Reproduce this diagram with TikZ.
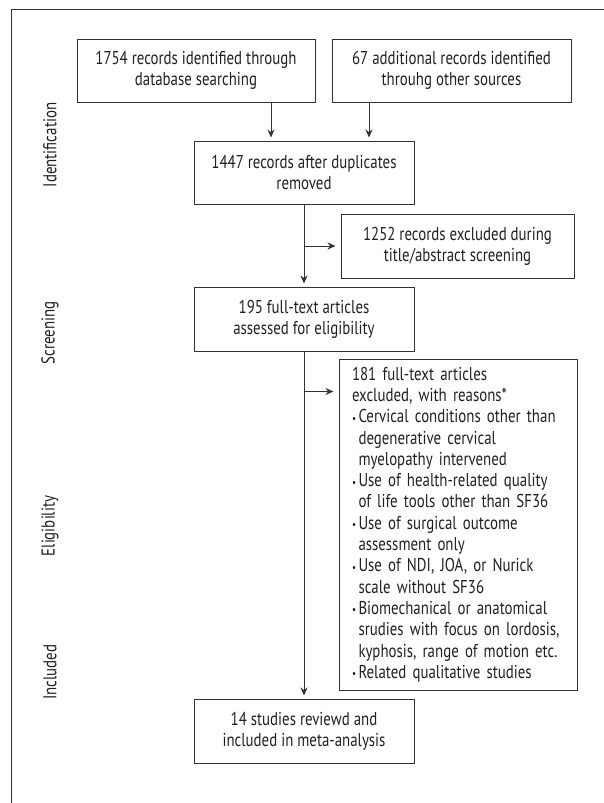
\documentclass[tikz,border=0pt]{standalone}
\usepackage{fontspec}
\setmainfont{PT Sans}[FakeStretch=0.8]
\usetikzlibrary{arrows.meta,positioning}
\definecolor{framegray}{HTML}{333333}
\definecolor{inkgray}{HTML}{231F20}
\newcommand{\bul}{\makebox[6.5pt][l]{\raisebox{0.5pt}{\scalebox{0.6}{\textbullet}}}}
\newcommand{\ind}{\hspace*{6.5pt}}

\begin{document}
\begin{tikzpicture}[
  x=1pt, y=-1pt,
  every node/.style={font=\fontsize{18.6}{21.3}\selectfont, text=inkgray},
  box/.style={draw=framegray, line width=1pt, align=center, inner sep=0pt, minimum height=63pt},
  stage/.style={rotate=90},
  flow/.style={->, draw=framegray, line width=1pt, shorten >=3pt},
  >={Stealth[length=8pt,width=7pt]}
]
  \useasboundingbox (0,0) rectangle (604,803);

  % outer frame (top and left only)
  \draw[framegray, line width=1pt] (604,9) -- (11,9) -- (11,803);

  % stage labels
  \node[stage] (lid)  at (50,145) {Identification};
  \node[stage] (lscr) at (50,333) {Screening};
  \node[stage] (lelg) at (50,526) {Eligibility};
  \node[stage] (linc) at (50,672) {Included};

  % boxes
  \node[box, minimum width=238pt] (src1)  at (196,70.5)  {1754 records identified through\\database searching};
  \node[box, minimum width=239pt] (src2)  at (451.5,70.5) {67 additional records identified\\throuhg other sources};
  \node[box, minimum width=220pt] (dedup) at (304,172.5) {1447 records after duplicates\\removed};
  \node[box, minimum width=233pt, minimum height=64pt] (excl1) at (457.5,246) {1252 records excluded during\\title/abstract screening};
  \node[box, minimum width=220pt, minimum height=64pt] (full)  at (304,319) {195 full-text articles\\assessed for eligibility};
  \node[box, align=left, text width=212pt, inner xsep=13pt, minimum height=331pt] (excl2) at (458,524.5) {%
    181 full-text articles\\
    excluded, with reasons*\\
    \bul Cervical conditions other than\\
    \ind degenerative cervical\\
    \ind myelopathy intervened\\
    \bul Use of health-related quality\\
    \ind of life tools other than SF36\\
    \bul Use of surgical outcome\\
    \ind assessment only\\
    \bul Use of NDI, JOA, or Nurick\\
    \ind scale without SF36\\
    \bul Biomechanical or anatomical\\
    \ind srudies with focus on lordosis,\\
    \ind kyphosis, range of motion etc.\\
    \bul Related qualitative studies};
  \node[box, minimum width=220pt, minimum height=64pt] (incl) at (304,731) {14 studies reviewd and\\included in meta-analysis};

  % connectors
  \path (dedup.north) ++(-33,0) coordinate (in1);
  \path (dedup.north) ++(65,0) coordinate (in2);
  \draw[flow] (in1 |- src1.south) -- (in1);
  \draw[flow] (in2 |- src2.south) -- (in2);
  \draw[flow] (dedup) -- (full);
  \draw[flow, shorten >=5pt] (dedup.south |- excl1.west) -- (excl1.west);
  \path (excl2.north west) ++(0,33) coordinate (br2);
  \draw[flow, shorten >=5pt] (full.south |- br2) -- (br2);
  \draw[flow] (full) -- (incl);
\end{tikzpicture}
\end{document}
